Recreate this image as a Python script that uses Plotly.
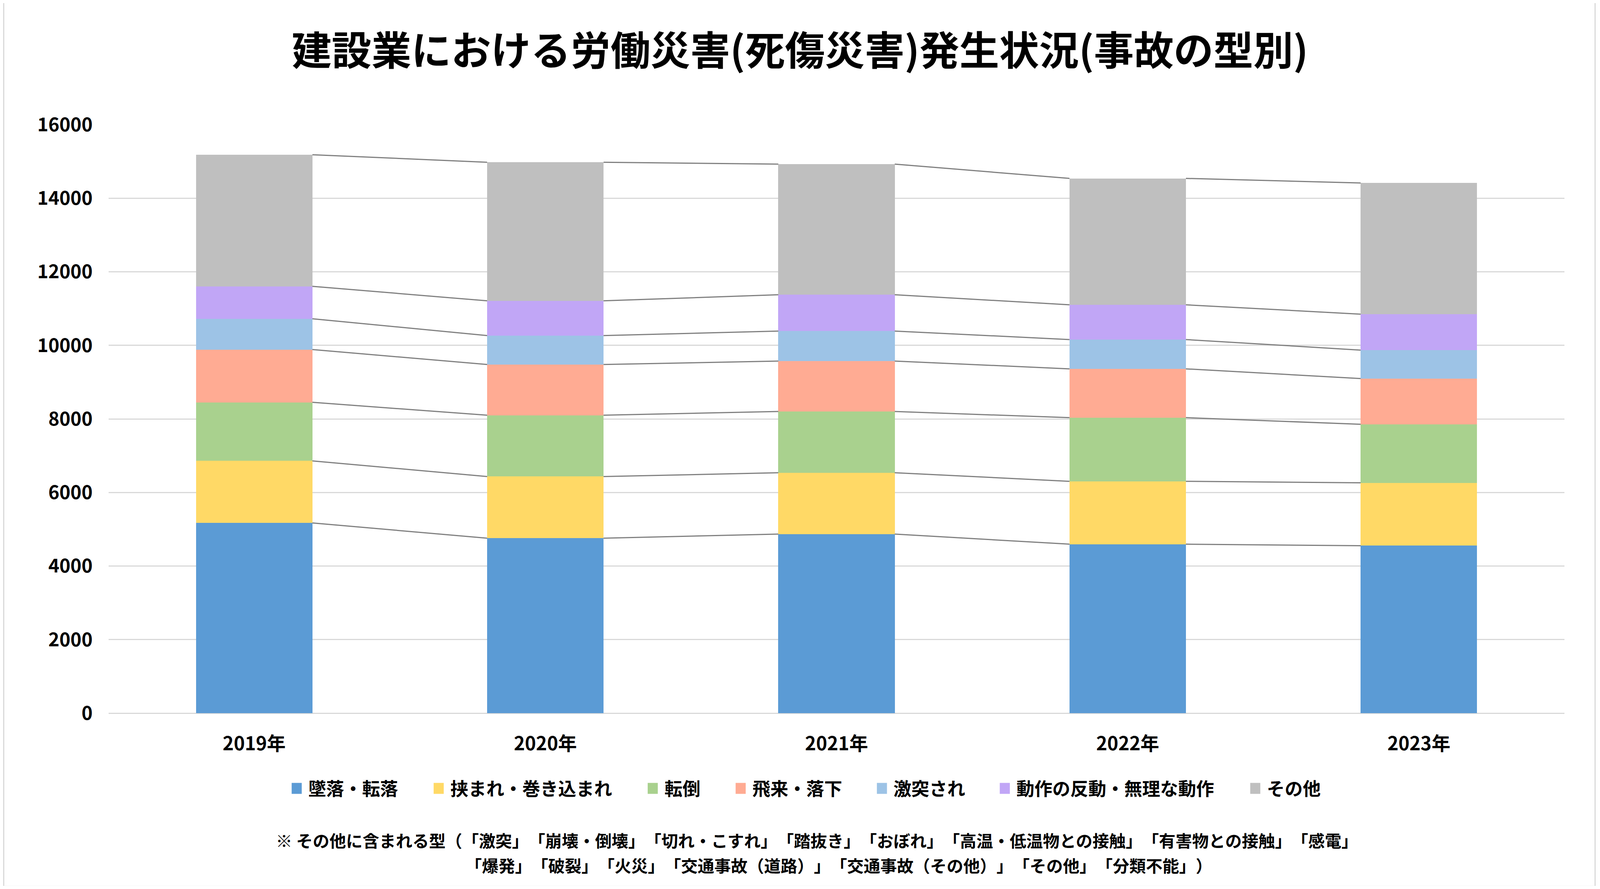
import numpy as np
import plotly.graph_objects as go

# 建設業 死傷災害（事故の型別）件数
years = ["2019年", "2020年", "2021年", "2022年", "2023年"]
fall = [5171, 4756, 4869, 4594, 4553]          # 墜落・転落
caught = [1688, 1677, 1667, 1710, 1709]        # 挟まれ・巻き込まれ
tumble = [1592, 1667, 1666, 1730, 1592]        # 転倒
flying = [1434, 1380, 1370, 1327, 1242]        # 飛来・落下
struck = [838, 785, 817, 796, 775]             # 激突され
motion = [881, 945, 987, 945, 977]             # 動作の反動・無理な動作
other = [3579, 3767, 3550, 3437, 3566]         # その他

names = ["墜落・転落", "挟まれ・巻き込まれ", "転倒", "飛来・落下",
         "激突され", "動作の反動・無理な動作", "その他"]
colors = ["#5B9BD5", "#FFD966", "#A9D18E", "#FFAB93",
          "#9DC3E6", "#C1A6F6", "#BFBFBF"]
series = [fall, caught, tumble, flying, struck, motion, other]

title = "建設業における労働災害(死傷災害)発生状況(事故の型別)"
note1 = "※ その他に含まれる型（「激突」「崩壊・倒壊」「切れ・こすれ」「踏抜き」「おぼれ」「高温・低温物との接触」「有害物との接触」「感電」"
note2 = "「爆発」「破裂」「火災」「交通事故（道路）」「交通事故（その他）」「その他」「分類不能」）"

FONT = "Noto Sans CJK JP"
# 参照画像(4427x2275)上の位置を割合で持ち、実際の画面サイズに合わせる
REF_W, REF_H = 4427, 2275
FL, FR, FT, FB = 296 / REF_W, 91 / REF_W, 319 / REF_H, 454 / REF_H
VIEW_W, VIEW_H = 4035, 2215
BAR_W = 0.4


def px_x(p):
    return (p / REF_W - FL) / (1 - FL - FR)


def px_y(p):
    return (1 - FB - p / REF_H) / (1 - FT - FB)


def no_trim(s):
    # 括弧が続くところで詰められないように語結合子を挟む
    brackets = "「」（）"
    out = ""
    for a, b in zip(s, s[1:] + " "):
        out += a
        if a in brackets and b in brackets:
            out += "\u2060"
    return out


x = np.arange(len(years))
fig = go.Figure()

for name, col, vals in zip(names, colors, series):
    fig.add_trace(go.Bar(x=x, y=vals, name=name, width=BAR_W,
                         marker=dict(color=col, line=dict(width=0)),
                         showlegend=False))

# 系列線（各区分の上端を結ぶ）
cum = np.cumsum(np.array(series), axis=0)
for level in cum:
    lx, ly = [], []
    for i in range(len(years) - 1):
        lx += [x[i] + BAR_W / 2, x[i + 1] - BAR_W / 2, None]
        ly += [level[i], level[i + 1], None]
    fig.add_trace(go.Scatter(x=lx, y=ly, mode="lines", showlegend=False,
                             line=dict(color="#7F7F7F", width=3),
                             hoverinfo="skip"))

fig.update_layout(
    autosize=True,
    barmode="stack",
    paper_bgcolor="white", plot_bgcolor="white",
    margin=dict(l=round(FL * VIEW_W), r=round(FR * VIEW_W),
                t=round(FT * VIEW_H), b=round(FB * VIEW_H), pad=0),
    font=dict(family=FONT, color="black", weight="bold"),
    title=dict(text=title, x=0.5, xanchor="center", xref="container",
               y=1 - 124 / REF_H, yanchor="middle", yref="container",
               font=dict(size=102, family=FONT, weight="bold", color="black")),
)

fig.update_xaxes(range=[-0.5, len(years) - 0.5], tickvals=x, ticktext=years,
                 showgrid=False, zeroline=False, showline=False,
                 ticklabelstandoff=46,
                 tickfont=dict(size=48, family=FONT, weight="bold"))
fig.update_yaxes(range=[0, 16000], dtick=2000, tickformat="d", showgrid=True,
                 gridcolor="#D9D9D9", gridwidth=3,
                 zeroline=True, zerolinecolor="#D9D9D9", zerolinewidth=3,
                 showline=False, ticklabelstandoff=40,
                 tickfont=dict(size=48, family=FONT, weight="bold"))

# 凡例（手描き）
legend_left = [804, 1198, 1792, 2036, 2428, 2769, 3464]
for name, col, left in zip(names, colors, legend_left):
    fig.add_shape(type="rect", xref="paper", yref="paper",
                  x0=px_x(left), x1=px_x(left + 28),
                  y0=px_y(2027), y1=px_y(1999),
                  fillcolor=col, line=dict(width=0))
    fig.add_annotation(text=name, xref="paper", yref="paper",
                       x=px_x(left + 44), y=px_y(2010),
                       xanchor="left", yanchor="middle", showarrow=False,
                       font=dict(size=46, family=FONT, weight="bold", color="black"))

# 注記
fig.add_annotation(text=no_trim(note1), xref="paper", yref="paper",
                   x=px_x(2261), y=px_y(2145), xanchor="center", yanchor="middle",
                   showarrow=False,
                   font=dict(size=42.5, family=FONT, weight="bold", color="black"))
fig.add_annotation(text=no_trim(note2), xref="paper", yref="paper",
                   x=px_x(2322), y=px_y(2208), xanchor="center", yanchor="middle",
                   showarrow=False,
                   font=dict(size=42.5, family=FONT, weight="bold", color="black"))

# 外枠
fig.add_shape(type="rect", xref="paper", yref="paper",
              x0=px_x(5), x1=px_x(REF_W - 6), y0=px_y(REF_H - 12), y1=px_y(5),
              line=dict(color="#D9D9D9", width=3), fillcolor="rgba(0,0,0,0)")

fig.write_html("out.html")
